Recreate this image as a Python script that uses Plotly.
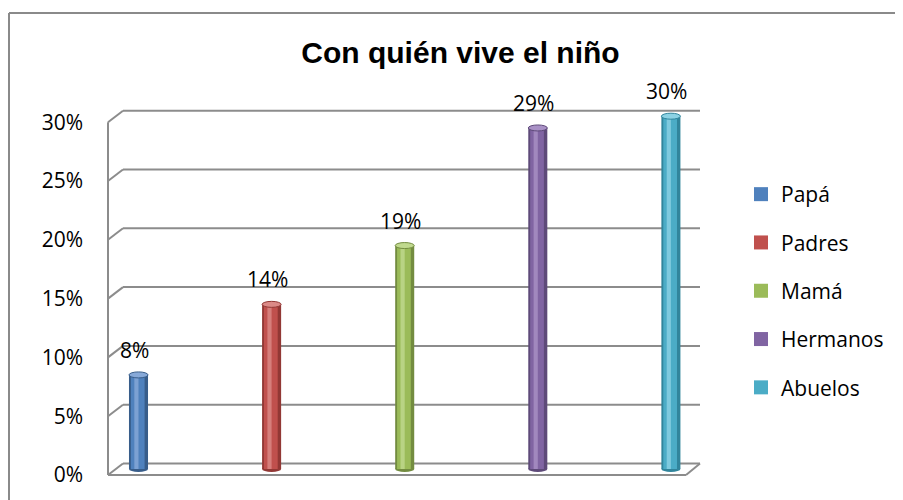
import plotly.graph_objects as go

# ---- data ----
categories = ["Papá", "Padres", "Mamá", "Hermanos", "Abuelos"]
values = [0.08, 0.14, 0.19, 0.29, 0.30]
labels = ["8%", "14%", "19%", "29%", "30%"]
tick_vals = [0, 0.05, 0.10, 0.15, 0.20, 0.25, 0.30]
tick_text = ["0%", "5%", "10%", "15%", "20%", "25%", "30%"]

# ---- style ----
base_col = ["#4f81bd", "#c0504d", "#9bbb59", "#8064a2", "#4bacc6"]
dark_col = ["#385d8a", "#923835", "#738c40", "#5e4a79", "#31859c"]
light_col = ["#87a9d8", "#db8a87", "#c0d98e", "#a991c6", "#8cd2e4"]
FONT = "Open Sans"

OFF = 8                          # page body margin of the html page
W, H = 903 - OFF, 500 - OFF
# plot area in screen pixels
PL, PR, PT, PB = 100, 720, 60, 490
L, R, T, B = PL - OFF, W - (PR - OFF), PT - OFF, H - (PB - OFF)
X0PX, XSTEP = 138.5, 133.1       # screen x of first cylinder centre, spacing
Y_PX = 1176.0                    # pixels per unit of value
FRONT0, MID0 = 475.0, 469.0      # screen y of value 0 (front edge / cylinder base)
BAR_W = 0.143
GRID = "#8c8c8c"


def xd(px):
    return (px - X0PX) / XSTEP


y_front_range = [(FRONT0 - PB) / Y_PX, (FRONT0 - PT) / Y_PX]
y_mid_range = [(MID0 - PB) / Y_PX, (MID0 - PT) / Y_PX]
x_range = [xd(PL), xd(PR)]

XFL, XBL, XFR, XBR = xd(108), xd(123), xd(686), xd(700)
DYB = 11.5 / Y_PX

fig = go.Figure()
xs = list(range(len(categories)))

# legend entries (square swatches) - added first so groups are ordered
for i, c in enumerate(categories):
    fig.add_trace(go.Scatter(x=[None], y=[None], mode="markers", name=c, legendgroup=c,
                             marker=dict(symbol="square", size=14, color=base_col[i],
                                         line=dict(width=0)),
                             hoverinfo="skip"))
# outer dark body
for i, v in enumerate(values):
    fig.add_trace(go.Bar(x=[xs[i]], y=[v], width=BAR_W, yaxis="y2", legendgroup=categories[i],
                         marker=dict(color=dark_col[i], line=dict(width=0)),
                         showlegend=False, hoverinfo="skip"))
# main body
for i, v in enumerate(values):
    fig.add_trace(go.Bar(x=[xs[i]], y=[v], width=BAR_W * 0.72, offset=-BAR_W * 0.40,
                         yaxis="y2", legendgroup=categories[i],
                         marker=dict(color=base_col[i], line=dict(width=0)),
                         showlegend=False, hoverinfo="skip"))
# highlight
for i, v in enumerate(values):
    fig.add_trace(go.Bar(x=[xs[i]], y=[v], width=BAR_W * 0.22, offset=-BAR_W * 0.22,
                         yaxis="y2", legendgroup=categories[i],
                         marker=dict(color=light_col[i], line=dict(width=0), opacity=0.8),
                         showlegend=False, hoverinfo="skip"))

shapes = []
for tv in tick_vals:
    shapes.append(dict(type="line", xref="x", yref="y", x0=XBL, x1=XBR,
                       y0=tv + DYB, y1=tv + DYB, line=dict(color=GRID, width=2), layer="below"))
    shapes.append(dict(type="line", xref="x", yref="y", x0=XFL, x1=XBL,
                       y0=tv, y1=tv + DYB, line=dict(color=GRID, width=2), layer="below"))
shapes.append(dict(type="line", xref="x", yref="y", x0=XFL, x1=XFL, y0=0, y1=tick_vals[-1],
                   line=dict(color=GRID, width=2), layer="below"))
shapes.append(dict(type="line", xref="x", yref="y", x0=XFL, x1=XFR, y0=0, y1=0,
                   line=dict(color=GRID, width=2), layer="below"))
shapes.append(dict(type="line", xref="x", yref="y", x0=XFR, x1=XBR, y0=0, y1=DYB,
                   line=dict(color=GRID, width=2), layer="below"))

e = 3.0 / Y_PX
for i, v in enumerate(values):
    shapes.append(dict(type="circle", xref="x", yref="y2",
                       x0=xs[i] - BAR_W / 2, x1=xs[i] + BAR_W / 2, y0=-e, y1=e,
                       fillcolor=dark_col[i], line=dict(width=0), layer="below"))
    shapes.append(dict(type="circle", xref="x", yref="y2",
                       x0=xs[i] - BAR_W / 2, x1=xs[i] + BAR_W / 2, y0=v - e, y1=v + e,
                       fillcolor=light_col[i], line=dict(color=dark_col[i], width=1), layer="above"))


def pxp(px):
    return (px - PL) / (PR - PL)


def pyp(py):
    return (PB - py) / (PB - PT)


shapes.append(dict(type="line", xref="paper", yref="paper", x0=pxp(9), x1=pxp(9),
                   y0=pyp(13), y1=pyp(505), line=dict(color="#8a8a8a", width=2)))
shapes.append(dict(type="line", xref="paper", yref="paper", x0=pxp(9), x1=pxp(905),
                   y0=pyp(13), y1=pyp(13), line=dict(color="#8a8a8a", width=2)))

annotations = []
for i, (v, t) in enumerate(zip(values, labels)):
    annotations.append(dict(x=xs[i], y=v, xref="x", yref="y2", text=t, showarrow=False,
                            yanchor="middle", xanchor="center", yshift=25, xshift=-4,
                            font=dict(family=FONT, size=21, color="#000000")))

fig.update_layout(
    width=W, height=H,
    margin=dict(l=L, r=R, t=T, b=B, autoexpand=False),
    paper_bgcolor="white", plot_bgcolor="white",
    barmode="overlay",
    title=dict(text="<b>Con quién vive el niño</b>", xref="container", yref="container",
               x=(460.5 - OFF) / W, y=1 - (52 - OFF) / H, xanchor="center", yanchor="middle",
               font=dict(family="Liberation Sans", size=30, color="#000000")),
    xaxis=dict(range=x_range, showticklabels=False, showgrid=False, zeroline=False,
               showline=False, ticks="", fixedrange=True),
    yaxis=dict(range=y_front_range, tickvals=tick_vals, ticktext=tick_text,
               showgrid=False, zeroline=False, showline=False, ticks="",
               ticklabelstandoff=16,
               tickfont=dict(family=FONT, size=21, color="#000000")),
    yaxis2=dict(range=y_mid_range, overlaying="y", visible=False),
    legend=dict(xref="container", yref="container", x=(741 - OFF) / W, y=1 - (174 - OFF) / H,
                xanchor="left", yanchor="top", traceorder="grouped", tracegroupgap=18,
                font=dict(family=FONT, size=21, color="#000000"),
                bgcolor="rgba(0,0,0,0)", itemwidth=30),
    shapes=shapes,
    annotations=annotations,
    showlegend=True,
)

fig.write_html("out.html")
